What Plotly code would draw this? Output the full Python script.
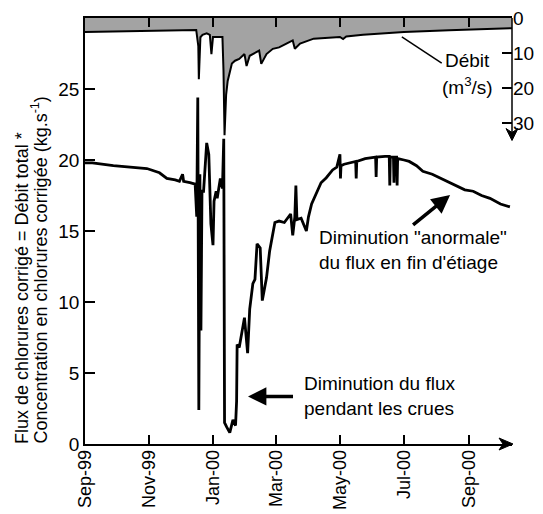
import plotly.graph_objects as go

# ---- Data ----
flux_dates = [
    "1999-09-01", "1999-09-08", "1999-09-28", "1999-10-14", "1999-10-30", "1999-11-11",
    "1999-11-18", "1999-11-26", "1999-11-30", "1999-12-03", "1999-12-04", "1999-12-10",
    "1999-12-15", "1999-12-16 12:00", "1999-12-17 12:00", "1999-12-18 12:00",
    "1999-12-19 12:00", "1999-12-20 12:00", "1999-12-21 12:00", "1999-12-23",
    "1999-12-26", "1999-12-28", "1999-12-30", "2000-01-01", "2000-01-02", "2000-01-04",
    "2000-01-05", "2000-01-08", "2000-01-10", "2000-01-11 06:00", "2000-01-12",
    "2000-01-14", "2000-01-17", "2000-01-20", "2000-01-22 12:00", "2000-01-23 12:00",
    "2000-01-24", "2000-01-26", "2000-01-29", "2000-01-31", "2000-02-03", "2000-02-05",
    "2000-02-08", "2000-02-10", "2000-02-12", "2000-02-15", "2000-02-17", "2000-02-19",
    "2000-02-21", "2000-02-24", "2000-02-29", "2000-03-04", "2000-03-09", "2000-03-15",
    "2000-03-17", "2000-03-19", "2000-03-20", "2000-03-21", "2000-03-25", "2000-03-30",
    "2000-04-01", "2000-04-04", "2000-04-09", "2000-04-13", "2000-04-18", "2000-04-24",
    "2000-04-28", "2000-05-01", "2000-05-01 12:00", "2000-05-02", "2000-05-05",
    "2000-05-10", "2000-05-16", "2000-05-16 12:00", "2000-05-17", "2000-05-25",
    "2000-06-01", "2000-06-04", "2000-06-04 12:00", "2000-06-05", "2000-06-13",
    "2000-06-17", "2000-06-17 12:00", "2000-06-18", "2000-06-21", "2000-06-21 12:00",
    "2000-06-22", "2000-06-24", "2000-06-24 12:00", "2000-06-25", "2000-07-01",
    "2000-07-06", "2000-07-13", "2000-07-19", "2000-07-28", "2000-08-04", "2000-08-12",
    "2000-08-20", "2000-08-28", "2000-09-05", "2000-09-13", "2000-09-21", "2000-10-01",
    "2000-10-10",
]
flux_values = [
    19.8, 19.8, 19.6, 19.5, 19.4, 19.1,
    18.7, 18.6, 18.5, 19.0, 18.5, 18.4,
    18.3, 16.0, 24.4, 2.4,
    19.0, 8.0, 17.8, 17.8,
    21.2, 20.4, 15.5, 14.0, 17.1, 17.8,
    17.3, 18.7, 18.0, 21.5, 1.5,
    1.2, 0.8, 1.7, 1.3, 3.0,
    7.0, 6.8, 8.0, 8.9, 6.4, 9.5,
    11.3, 11.6, 14.1, 13.8, 10.1, 11.0,
    11.7, 13.6, 15.6, 15.7, 15.6, 16.2,
    14.7, 16.0, 18.2, 15.8, 15.9, 15.0,
    16.0, 16.9, 17.8, 18.4, 18.75, 19.3,
    19.5, 20.4, 18.7, 19.6, 19.7,
    19.8, 19.9, 18.7, 19.9, 20.1,
    20.2, 20.2, 18.8, 20.2, 20.25,
    20.25, 18.2, 20.2, 20.2, 18.4,
    20.2, 20.2, 18.2, 20.1, 20.0,
    19.9, 19.6, 19.2, 19.0, 18.75, 18.5,
    18.2, 17.9, 17.8, 17.5, 17.3, 16.9,
    16.7,
]

debit_dates = [
    "1999-09-01", "1999-11-02", "1999-12-16", "1999-12-18", "1999-12-18 12:00",
    "1999-12-20", "1999-12-22", "1999-12-26", "1999-12-29", "1999-12-30 12:00",
    "2000-01-01", "2000-01-10", "2000-01-11", "2000-01-12", "2000-01-13 12:00",
    "2000-01-15", "2000-01-17", "2000-01-19", "2000-01-22", "2000-01-26",
    "2000-01-31", "2000-02-02", "2000-02-05", "2000-02-11", "2000-02-14",
    "2000-02-16", "2000-02-21", "2000-02-27", "2000-03-04", "2000-03-11",
    "2000-03-17", "2000-03-19", "2000-03-24", "2000-04-06", "2000-05-01",
    "2000-05-04", "2000-05-07", "2000-05-23", "2000-07-01", "2000-08-13",
    "2000-10-12",
]
debit_values = [
    4.0, 3.7, 3.4, 8.0, 17.5,
    5.5, 4.8, 4.4, 4.8, 10.3,
    5.4, 5.4, 15.0, 33.5, 22.0,
    18.0, 15.0, 13.0, 12.2, 11.7,
    10.3, 13.7, 10.8, 9.9, 9.3,
    13.1, 10.3, 8.8, 8.4, 7.3,
    6.4, 8.8, 7.3, 5.9, 5.4,
    6.0, 5.3, 4.8, 4.0, 3.5,
    2.9,
]

month_ticks = ["1999-09-01", "1999-11-01", "2000-01-01", "2000-03-01",
               "2000-05-01", "2000-07-01", "2000-09-01"]
month_labels = ["Sep-99", "Nov-99", "Jan-00", "Mar-00", "May-00", "Jul-00", "Sep-00"]
flux_ticks = [0, 5, 10, 15, 20, 25]
debit_ticks = [0, 10, 20, 30]

FONT = "Liberation Sans, Arial, sans-serif"
FS = 19

fig = go.Figure()

fig.add_trace(go.Scatter(
    x=debit_dates, y=debit_values, yaxis="y2", mode="lines",
    line=dict(color="black", width=2), fill="tozeroy", fillcolor="#a3a3a3",
    showlegend=False, hoverinfo="skip",
))
fig.add_trace(go.Scatter(
    x=flux_dates, y=flux_values, mode="lines",
    line=dict(color="black", width=2.8), showlegend=False,
))

fig.update_layout(
    width=543, height=514,
    margin=dict(l=85, r=31, t=18, b=70, autoexpand=False),
    paper_bgcolor="white", plot_bgcolor="white",
    font=dict(family=FONT, size=FS, color="black"),
    xaxis=dict(
        type="date", range=["1999-09-01", "2000-10-12"], automargin=False,
        tickmode="array", tickvals=month_ticks, ticktext=month_labels,
        tickangle=-90, ticks="inside", ticklen=9, tickwidth=1.5, tickcolor="black",
        ticklabelstandoff=-3,
        showline=True, linecolor="black", linewidth=1.5, mirror="ticks",
        showgrid=False, zeroline=False, tickfont=dict(size=18),
    ),
    yaxis=dict(
        range=[0, 30], tickmode="array", tickvals=flux_ticks, automargin=False,
        ticks="inside", ticklen=10, tickwidth=1.5, tickcolor="black",
        showline=True, linecolor="black", linewidth=1.5,
        showgrid=False, zeroline=False, tickfont=dict(size=FS),
    ),
    yaxis2=dict(
        overlaying="y", side="right", range=[121.7, 0], automargin=False,
        tickmode="array", tickvals=debit_ticks,
        ticks="inside", ticklen=10, tickwidth=1.5, tickcolor="black",
        showline=False, showgrid=False, zeroline=False, tickfont=dict(size=FS),
    ),
)

# right discharge axis line (0 -> 35) with a downward arrowhead
fig.add_shape(type="line", xref="paper", yref="y2", x0=1, x1=1, y0=0, y1=34,
              line=dict(color="black", width=1.5))
fig.add_shape(type="path", xref="paper", yref="y2", xsizemode="pixel",
              ysizemode="pixel", xanchor=1, yanchor=35,
              path="M-6,12 L0,0 L6,12 L0,8 Z",
              fillcolor="black", line=dict(color="black", width=1))
# x-axis arrowhead
fig.add_shape(type="path", xref="paper", yref="paper", xsizemode="pixel",
              ysizemode="pixel", xanchor=1, yanchor=0,
              path="M-13,-6 L1,0 L-13,6 L-9,0 Z",
              fillcolor="black", line=dict(color="black", width=1))

# Débit label and leader line
fig.add_shape(type="line", xref="x", yref="y2", x0="2000-06-29", y0=5.4,
              x1="2000-08-06", y1=12.9, line=dict(color="black", width=1.5))
fig.add_annotation(x="2000-08-31", xref="x", y=12, yref="y2", text="Débit",
                   showarrow=False, xanchor="center", yanchor="middle")
fig.add_annotation(x="2000-08-31", xref="x", y=19.4, yref="y2",
                   text="(m<sup>3</sup>/s)",
                   showarrow=False, xanchor="center", yanchor="middle")

# annotation: floods (arrow points left to the flux minimum)
fig.add_annotation(x="2000-02-03 09:00", xref="x", y=3.35, yref="y",
                   text="Diminution du flux<br>pendant les crues",
                   showarrow=True, ax=54, ay=0, xanchor="left", yanchor="middle",
                   align="left", startstandoff=9, arrowhead=2, arrowsize=1.05,
                   arrowwidth=3.5, arrowcolor="black")

# annotation: abnormal decrease (arrow points up-right to the curve)
fig.add_annotation(x="2000-08-14", xref="x", y=17.54, yref="y",
                   text="Diminution \"anormale\"<br>du flux en fin d'étiage",
                   showarrow=True, ax=-37, ay=30, xanchor="center", yanchor="top",
                   align="left", arrowhead=2, arrowsize=1.05,
                   arrowwidth=3.5, arrowcolor="black")

# Left axis title (two rotated lines)
fig.add_annotation(x=(22 - 85) / 427, xref="paper", y=(444 - 446) / 426, yref="paper",
                   text="Flux de chlorures corrigé = Débit total *",
                   textangle=-90, showarrow=False, xanchor="center", yanchor="bottom",
                   font=dict(size=18))
fig.add_annotation(x=(40 - 85) / 427, xref="paper", y=(444 - 446) / 426, yref="paper",
                   text="Concentration en chlorures corrigée (kg.s<sup>-1</sup>)",
                   textangle=-90, showarrow=False, xanchor="center", yanchor="bottom",
                   font=dict(size=18))

fig.write_html("out.html")
